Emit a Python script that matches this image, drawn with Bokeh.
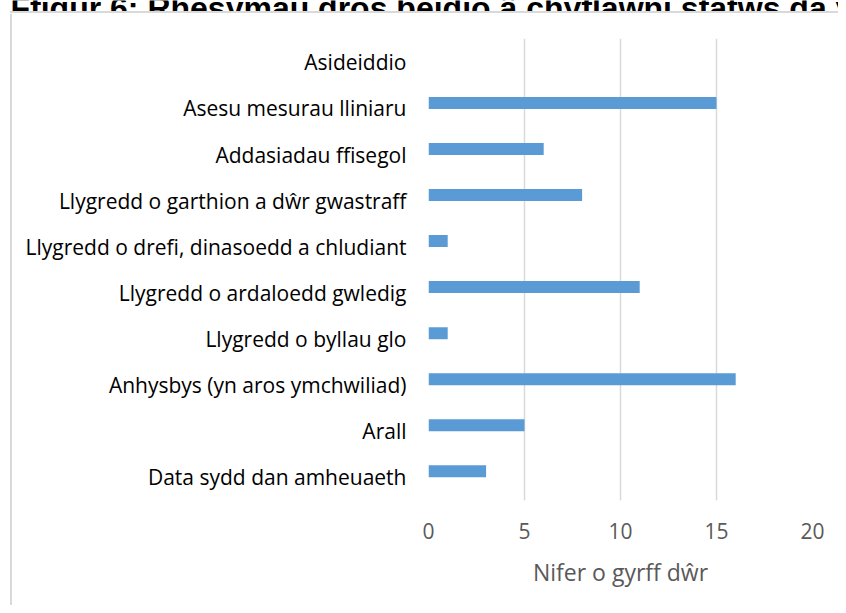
from bokeh.plotting import figure
from bokeh.embed import file_html
from bokeh.resources import INLINE
from bokeh.models import FixedTicker, ColumnDataSource
from bokeh.layouts import column, row
from bokeh.core.properties import value

categories = [
    "Asideiddio",
    "Asesu mesurau lliniaru",
    "Addasiadau ffisegol",
    "Llygredd o garthion a dŵr gwastraff",
    "Llygredd o drefi, dinasoedd a chludiant",
    "Llygredd o ardaloedd gwledig",
    "Llygredd o byllau glo",
    "Anhysbys (yn aros ymchwiliad)",
    "Arall",
    "Data sydd dan amheuaeth",
]
counts = [0, 15, 6, 8, 1, 11, 1, 16, 5, 3]
x_ticks = [0, 5, 10, 15, 20]
title_text = "Ffigur 6: Rhesymau dros beidio â chyflawni statws da y"
x_label = "Nifer o gyrff dŵr"

BORDER = "#d9d9d9"
W, H = 838, 605
TOP_H = 13
STRIP_W = 12


def bare(fig):
    fig.axis.visible = False
    fig.grid.visible = False
    fig.outline_line_color = None
    fig.background_fill_color = "white"
    fig.border_fill_color = "white"
    fig.frame_align = False
    return fig


# --- strip above the chart: cropped title and top edge of the chart border
top = bare(figure(width=W, height=TOP_H, output_backend="svg", toolbar_location=None,
                  x_range=(0, W), y_range=(TOP_H, 0),
                  min_border=0, min_border_left=0, min_border_right=0,
                  min_border_top=0, min_border_bottom=0))
top.text(x=[10], y=[7], text=[title_text], text_font=value("Liberation Sans"),
         text_font_style="bold", text_font_size="32px", text_color="#000000",
         text_baseline="alphabetic", text_align="left")
top.segment(x0=[9.5], y0=[11.5], x1=[W], y1=[11.5], line_color=BORDER, line_width=2)

# --- strip left of the chart: left edge of the chart border
MAIN_H = H - TOP_H
left = bare(figure(width=STRIP_W, height=MAIN_H, output_backend="svg", toolbar_location=None,
                   x_range=(0, STRIP_W), y_range=(MAIN_H, 0),
                   min_border=0, min_border_left=0, min_border_right=0,
                   min_border_top=0, min_border_bottom=0))
left.segment(x0=[10.5], y0=[0], x1=[10.5], y1=[MAIN_H], line_color=BORDER, line_width=2)

# --- main chart
n = len(categories)
pos = [n - 1 - i for i in range(n)]  # first category at the top
src = ColumnDataSource(dict(y=pos, right=counts, cat=categories))
tick_pos = [round(pv - 0.12, 2) for pv in pos]

MAIN_W = W - STRIP_W
p = figure(width=MAIN_W, height=MAIN_H, output_backend="svg", toolbar_location=None,
           x_range=(0, 20), y_range=(-0.635, 9.40),
           min_border_left=416, min_border_right=26, min_border_top=25, min_border_bottom=105)
p.frame_align = False

p.hbar(y="y", left=0, right="right", height=0.26, source=src,
       fill_color="#5B9BD5", line_color=None)

p.outline_line_color = None
p.background_fill_color = "white"
p.border_fill_color = "white"

p.xaxis.ticker = FixedTicker(ticks=x_ticks)
p.xaxis.axis_line_color = None
p.xaxis.major_tick_line_color = None
p.xaxis.minor_tick_line_color = None
p.xaxis.major_label_text_font = "Open Sans"
p.xaxis.major_label_text_font_size = "21px"
p.xaxis.major_label_text_color = "#595959"
p.xaxis.major_label_standoff = 16
p.xaxis.axis_label = x_label
p.xaxis.axis_label_text_font = "Open Sans"
p.xaxis.axis_label_text_font_size = "23px"
p.xaxis.axis_label_text_font_style = "normal"
p.xaxis.axis_label_text_color = "#595959"
p.xaxis.axis_label_standoff = 14

p.yaxis.ticker = FixedTicker(ticks=tick_pos)
p.yaxis.major_label_overrides = {tp: c for tp, c in zip(tick_pos, categories)}
p.yaxis.axis_line_color = None
p.yaxis.major_tick_line_color = None
p.yaxis.minor_tick_line_color = None
p.yaxis.major_label_text_font = "Open Sans"
p.yaxis.major_label_text_font_size = "21px"
p.yaxis.major_label_text_color = "#000000"
p.yaxis.major_label_standoff = 16

p.xgrid.grid_line_color = BORDER
p.xgrid.grid_line_width = 1.5
p.ygrid.grid_line_color = None

layout = column(top, row(left, p))

open("out.html", "w").write(file_html(layout, INLINE))
